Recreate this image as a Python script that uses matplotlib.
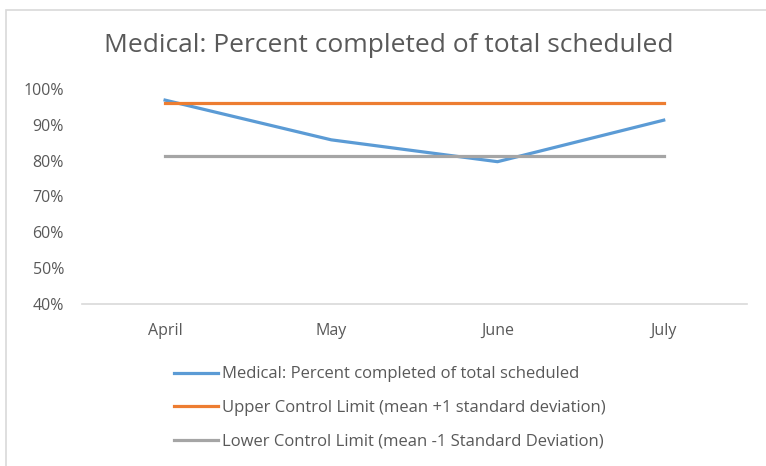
import matplotlib.pyplot as plt
from matplotlib.patches import Rectangle
from matplotlib.ticker import PercentFormatter

months = ["April", "May", "June", "July"]
medical = [96.9, 85.8, 79.7, 91.3]
upper = [96.1, 96.1, 96.1, 96.1]
lower = [81.4, 81.4, 81.4, 81.4]

plt.rcParams['font.family'] = ['Open Sans', 'DejaVu Sans']

fig = plt.figure(figsize=(7.66, 4.66), dpi=100)
ax = fig.add_axes([0.107, 0.348, 0.868, 0.461])

# chart border (light gray, partly cropped in reference)
fig.patches.append(Rectangle((6 / 766, -0.1), 2.0, 1.1 - 10 / 466, transform=fig.transFigure,
                             fill=False, edgecolor='#D9D9D9', linewidth=1.2))

x = range(len(months))
ax.plot(x, medical, color='#5B9BD5', lw=2.3, label='Medical: Percent completed of total scheduled')
ax.plot(x, upper, color='#ED7D31', lw=2.3, label='Upper Control Limit (mean +1 standard deviation)')
ax.plot(x, lower, color='#A5A5A5', lw=2.3, label='Lower Control Limit (mean -1 Standard Deviation)')

ax.set_xlim(-0.5, 3.5)
ax.set_ylim(40, 100)
ax.set_yticks(range(40, 101, 10))
ax.yaxis.set_major_formatter(PercentFormatter(decimals=0))
ax.set_xticks(list(x))
ax.set_xticklabels(months)
ax.tick_params(length=0, labelsize=11.5, labelcolor='#595959')
ax.tick_params(axis='x', pad=14)
ax.tick_params(axis='y', pad=13)
for s in ['top', 'right', 'left']:
    ax.spines[s].set_visible(False)
ax.spines['bottom'].set_color('#D9D9D9')
ax.spines['bottom'].set_linewidth(1.2)

fig.text(0.508, 0.903, "Medical: Percent completed of total scheduled", ha='center', va='center',
         fontsize=19, color='#595959')

leg = fig.legend(loc='upper left', bbox_to_anchor=(0.219, 0.228), frameon=False, fontsize=12,
                 handlelength=2.6, handletextpad=0.25, labelspacing=1.05, borderaxespad=0)
for t in leg.get_texts():
    t.set_color('#595959')

fig.savefig('out.png', dpi=100)
